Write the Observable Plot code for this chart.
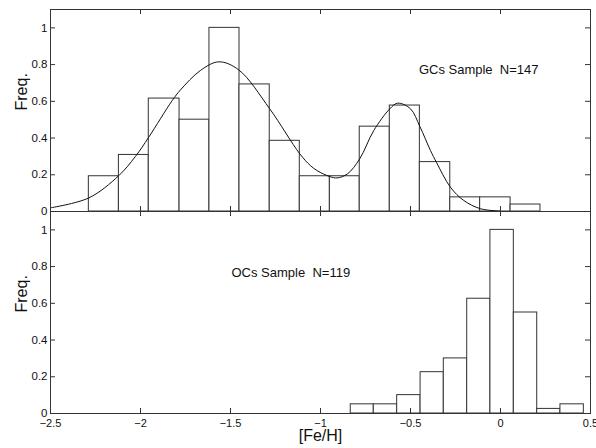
<!DOCTYPE html>
<html><head><meta charset="utf-8">
<script src="https://cdn.jsdelivr.net/npm/d3@7"></script>
<script src="https://cdn.jsdelivr.net/npm/@observablehq/plot@0.6"></script>
<style>
body{margin:0;background:#fff;}
#chart{width:596px;height:448px;position:relative;}
#chart svg{display:block;}
</style>
</head><body><div id="chart"></div>
<script>
// GC sample histogram (normalized frequency)
const gcEdges = [-2.287,-2.120,-1.954,-1.783,-1.617,-1.450,-1.282,-1.115,-0.948,-0.782,-0.615,-0.448,-0.279,-0.113,0.056,0.222];
const gcFreq  = [0.192,0.308,0.615,0.500,1.000,0.692,0.385,0.192,0.192,0.462,0.577,0.269,0.077,0.077,0.038];
// Bimodal fit curve
const fitX = [-2.5,-2.287,-2.121,-2.028,-1.954,-1.824,-1.778,-1.667,-1.565,-1.454,-1.282,-1.115,-1.056,-1.018,-0.948,-0.907,-0.85,-0.782,-0.704,-0.615,-0.571,-0.5,-0.448,-0.389,-0.356,-0.278,-0.204,-0.111,0.0];
const fitY = [0.020,0.074,0.195,0.300,0.405,0.604,0.662,0.768,0.815,0.771,0.559,0.314,0.250,0.222,0.190,0.183,0.205,0.287,0.441,0.559,0.590,0.559,0.463,0.332,0.268,0.132,0.060,0.015,0.002];
// OC sample histogram
const ocEdges = [-0.832,-0.704,-0.574,-0.444,-0.315,-0.185,-0.056,0.074,0.204,0.333,0.463];
const ocFreq  = [0.050,0.050,0.100,0.225,0.300,0.625,1.000,0.550,0.025,0.050];
// Ticks and labels
const xTicks = [-2.5,-2,-1.5,-1,-0.5,0,0.5];
const yTicks = [0,0.2,0.4,0.6,0.8,1];
const gcLabel = "GCs Sample\u00a0 N=147";
const ocLabel = "OCs Sample\u00a0 N=119";
const yLabel = "Freq.";
const xLabel = "[Fe/H]";

const W = 596, ML = 50, MR = 6;
const PW = W - ML - MR;
const FONT = "'Liberation Sans', Arial, Helvetica, sans-serif";
const INK = "#333";
const fmt = d3.format("");

function panel({edges, freq, fit, label, labelOpts, height, marginTop, marginBottom, showX}) {
  const ph = height - marginTop - marginBottom;
  const bins = freq.map((f, i) => ({x1: edges[i], x2: edges[i + 1], f}));
  const marks = [
    Plot.rectY(bins, {x1: "x1", x2: "x2", y: "f", fill: "white", stroke: INK, strokeWidth: 1})
  ];
  if (fit) marks.push(Plot.line(fit, {x: "x", y: "y", curve: "catmull-rom", stroke: "#111", strokeWidth: 1}));
  marks.push(
    Plot.tickX(xTicks, {x: d => d, insetTop: ph - 5, stroke: INK}),
    Plot.tickX(xTicks, {x: d => d, insetBottom: ph - 5, stroke: INK}),
    Plot.tickY(yTicks, {y: d => d, insetRight: PW - 5, stroke: INK}),
    Plot.tickY(yTicks, {y: d => d, insetLeft: PW - 5, stroke: INK}),
    Plot.frame({stroke: INK}),
    Plot.axisY({ticks: yTicks, tickSize: 0, tickPadding: 3, label: null, fontSize: 11.5, fill: "#111", tickFormat: fmt}),
    Plot.text([label], {text: d => d, fontSize: 13, fill: "#111", ...labelOpts}),
    Plot.text([yLabel], {text: d => d, frameAnchor: "left", dx: -29, rotate: -90, fontSize: 16, fill: "#111"})
  );
  if (showX) {
    marks.push(
      Plot.axisX({ticks: xTicks, tickSize: 0, tickPadding: 6, label: null, fontSize: 11, fill: "#111", tickFormat: fmt}),
      Plot.text([xLabel], {text: d => d, frameAnchor: "bottom", dy: 27, fontSize: 16, fill: "#111"})
    );
  }
  return Plot.plot({
    width: W, height, marginTop, marginBottom, marginLeft: ML, marginRight: MR,
    x: {domain: [-2.5, 0.5], axis: null},
    y: {domain: [0, 1.1], axis: null},
    style: {fontFamily: FONT, fontSize: "11.5px", overflow: "visible", background: "none", color: "#111"},
    marks
  });
}

const fitData = fitX.map((x, i) => ({x, y: fitY[i]}));
const topPanel = panel({
  edges: gcEdges, freq: gcFreq, fit: fitData, label: gcLabel,
  labelOpts: {frameAnchor: "top-right", textAnchor: "end", dx: -52, dy: 55},
  height: 211, marginTop: 9, marginBottom: 0, showX: false
});
const bottomPanel = panel({
  edges: ocEdges, freq: ocFreq, fit: null, label: ocLabel,
  labelOpts: {frameAnchor: "top-left", textAnchor: "start", dx: 181, dy: 56},
  height: 237, marginTop: 0, marginBottom: 35, showX: true
});
const el = document.getElementById("chart");
el.appendChild(topPanel);
el.appendChild(bottomPanel);
</script>
</body></html>
